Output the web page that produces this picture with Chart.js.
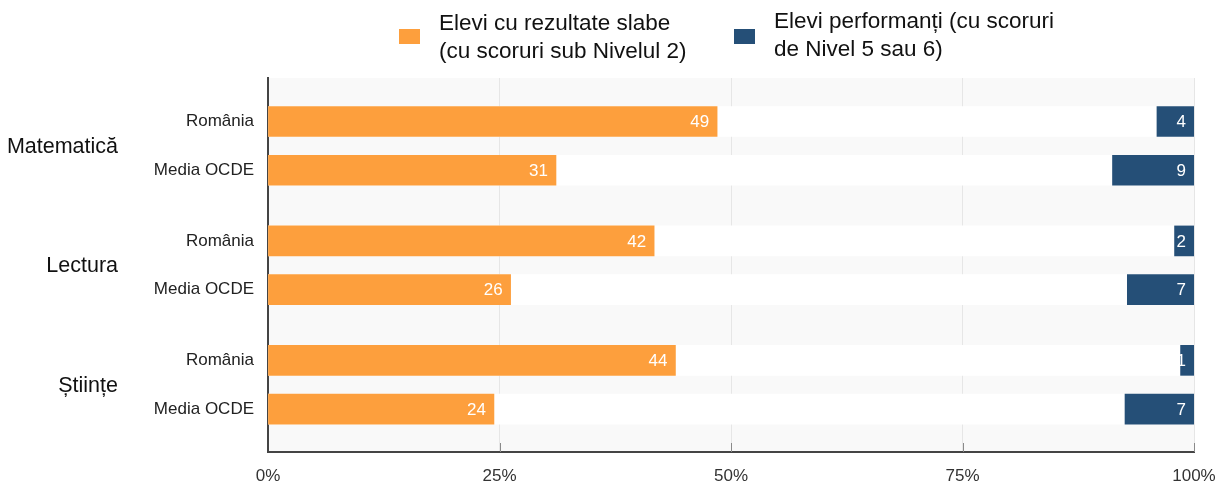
<!DOCTYPE html>
<html>
<head>
<meta charset="utf-8">
<script src="https://cdn.jsdelivr.net/npm/chart.js@4"></script>
<style>
  body { margin: 0; background: #fff; }
</style>
</head>
<body>
<canvas id="pisaChart" width="1217" height="483"></canvas>
<script>
// Date PISA: procent elevi pe niveluri
const subjects = ['Matematică', 'Lectura', 'Științe'];
const rowLabels = ['România', 'Media OCDE', 'România', 'Media OCDE', 'România', 'Media OCDE'];
const weakStudents = [48.5, 31.1, 41.7, 26.2, 44.0, 24.4];
const topStudents = [4.0, 8.8, 2.1, 7.2, 1.45, 7.45];
const seriesNames = [
    ['Elevi cu rezultate slabe', '(cu scoruri sub Nivelul 2)'],
    ['Elevi performanți (cu scoruri', 'de Nivel 5 sau 6)']
];
const xTicks = [0, 25, 50, 75, 100];

const ORANGE = '#fd9f3d';
const NAVY = '#254f77';
const FONT = '"Liberation Sans", Arial, sans-serif';

// pozitia randului pe axa y (grupuri de cate doua bare)
const rowY = i => Math.floor(i / 2) * 2.45 + (i % 2);

Chart.defaults.font.family = FONT;

// fundal gri deschis pentru zona graficului
const plotBg = {
    id: 'plotBg',
    beforeDraw(chart) {
        const { ctx, chartArea: a } = chart;
        ctx.save();
        ctx.fillStyle = '#f9f9f9';
        ctx.fillRect(a.left, a.top, a.right - a.left, a.bottom - a.top);
        ctx.restore();
    }
};

// etichete valori, grupuri, legenda
const extras = {
    id: 'extras',
    afterDraw(chart) {
        const { ctx, chartArea: a } = chart;
        const xs = chart.scales.x, ys = chart.scales.y;
        ctx.save();

        // valori in bare
        ctx.font = '17px ' + FONT;
        ctx.fillStyle = '#fff';
        ctx.textAlign = 'right';
        ctx.textBaseline = 'middle';
        [1, 2].forEach(di => {
            const vals = di === 1 ? weakStudents : topStudents;
            chart.getDatasetMeta(di).data.forEach((bar, i) => {
                ctx.fillText(String(Math.round(vals[i])), bar.x - 8, bar.y + 1);
            });
        });

        // mici repere pe axa x
        ctx.strokeStyle = '#8a8a8a';
        ctx.lineWidth = 1;
        xTicks.slice(1).forEach(v => {
            const px = Math.round(xs.getPixelForValue(v)) + 0.5;
            ctx.beginPath();
            ctx.moveTo(px, a.bottom - 9);
            ctx.lineTo(px, a.bottom);
            ctx.stroke();
        });

        // denumiri materii
        ctx.font = '21.5px ' + FONT;
        ctx.fillStyle = '#111';
        ctx.textAlign = 'right';
        subjects.forEach((s, g) => {
            const y = (ys.getPixelForValue(rowY(g * 2)) + ys.getPixelForValue(rowY(g * 2 + 1))) / 2;
            ctx.fillText(s, 118, y + 1);
        });

        // legenda
        const items = [
            { color: ORANGE, box: 399, text: 439, y: [24, 52] },
            { color: NAVY, box: 734, text: 774, y: [22, 50] }
        ];
        ctx.font = '22.5px ' + FONT;
        ctx.textAlign = 'left';
        items.forEach((it, k) => {
            ctx.fillStyle = it.color;
            ctx.fillRect(it.box, 29, 21, 15);
            ctx.fillStyle = '#111';
            seriesNames[k].forEach((line, j) => ctx.fillText(line, it.text, it.y[j]));
        });
        ctx.restore();
    }
};

const ctx = document.getElementById('pisaChart').getContext('2d');
const pisaChart = new Chart(ctx, {
    type: 'bar',
    data: {
        datasets: [
            {
                label: 'fundal',
                data: rowLabels.map((_, i) => ({ x: [0, 100], y: rowY(i) })),
                backgroundColor: '#ffffff',
                order: 3
            },
            {
                label: seriesNames[0].join(' '),
                data: weakStudents.map((v, i) => ({ x: [0, v], y: rowY(i) })),
                backgroundColor: ORANGE,
                order: 1
            },
            {
                label: seriesNames[1].join(' '),
                data: topStudents.map((v, i) => ({ x: [100 - v, 100], y: rowY(i) })),
                backgroundColor: NAVY,
                order: 1
            }
        ]
    },
    options: {
        indexAxis: 'y',
        responsive: false,
        animation: false,
        layout: { padding: { top: 78, right: 23, left: 0, bottom: 0 } },
        datasets: { bar: { barThickness: 30, grouped: false, borderWidth: 0 } },
        plugins: { legend: { display: false }, tooltip: { enabled: false } },
        scales: {
            x: {
                type: 'linear',
                min: 0,
                max: 100,
                afterBuildTicks: s => { s.ticks = xTicks.map(v => ({ value: v })); },
                afterFit: s => { s.height = 31; s.paddingLeft = 0; s.paddingRight = 0; },
                ticks: {
                    callback: v => v + '%',
                    font: { size: 17 },
                    color: '#333',
                    padding: 14,
                    maxRotation: 0
                },
                grid: { color: '#e6e6e6', drawTicks: false },
                border: { color: '#444', width: 2 }
            },
            y: {
                type: 'linear',
                reverse: true,
                offset: false,
                min: -0.892,
                max: 6.78,
                afterBuildTicks: s => { s.ticks = rowLabels.map((_, i) => ({ value: rowY(i) })); },
                afterFit: s => { s.width = 268; },
                ticks: {
                    callback: (v, i) => rowLabels[i],
                    font: { size: 17 },
                    color: '#222',
                    padding: 14,
                    autoSkip: false
                },
                grid: { display: false, drawTicks: false, offset: false },
                border: { color: '#444', width: 2 }
            }
        }
    },
    plugins: [plotBg, extras]
});
</script>
</body>
</html>
